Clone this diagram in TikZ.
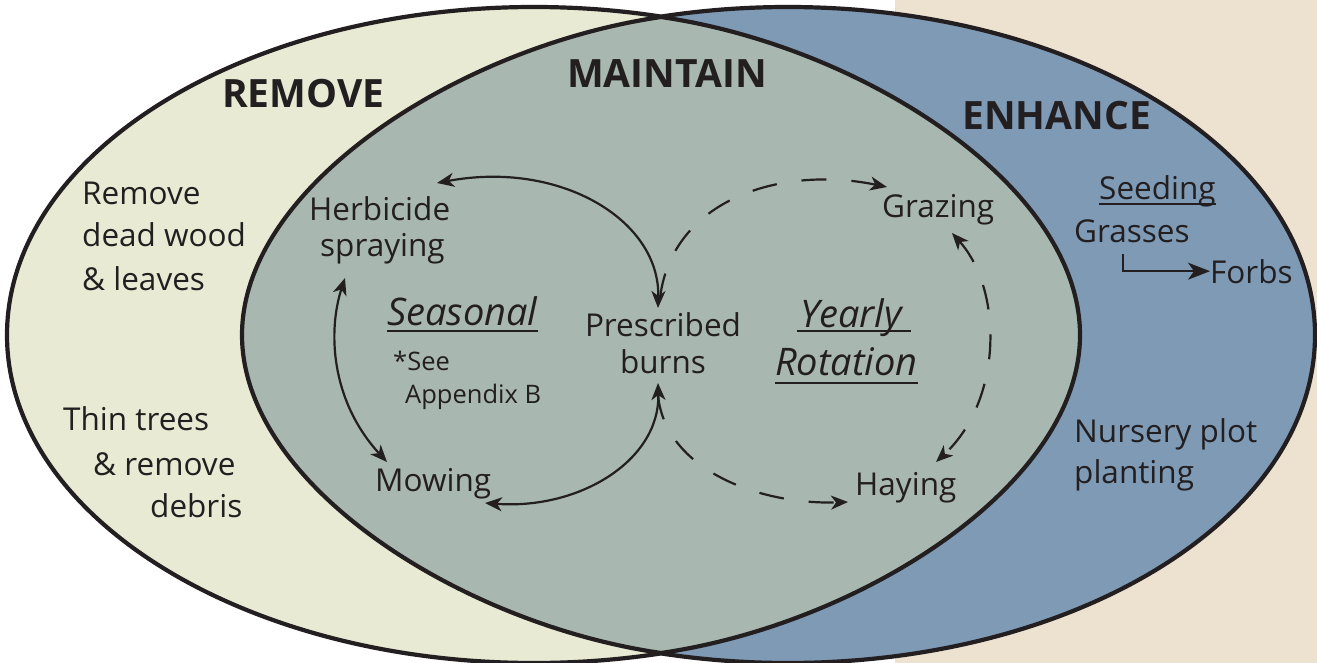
\documentclass[tikz,border=0pt]{standalone}
\usepackage{fontspec}
\setmainfont{Open Sans}
\usetikzlibrary{arrows.meta}
\definecolor{remfill}{HTML}{E8EAD4}
\definecolor{mainfill}{HTML}{A8B7AF}
\definecolor{enhfill}{HTML}{7E9AB5}
\definecolor{beige}{HTML}{EDE2CF}
\definecolor{ink}{HTML}{231F20}
\begin{document}
\begin{tikzpicture}[x=1pt,y=-1pt,
  outline/.style={draw=ink,line width=4.2pt},
  txt/.style={inner sep=0pt,anchor=base west,text=ink,font=\fontsize{31.5}{38}\selectfont},
  head/.style={txt,font=\fontsize{39}{44}\selectfont\bfseries},
  ital/.style={txt,font=\fontsize{38}{44}\selectfont\itshape},
  small/.style={txt,font=\fontsize{25.5}{30}\selectfont},
  hd/.style={},
  arr/.style={draw=ink,line width=2.2pt,{Stealth[length=17pt,width=14pt,inset=5pt]}-{Stealth[length=17pt,width=14pt,inset=5pt]}},
  darr/.style={draw=ink,line width=2.2pt,dash pattern=on 25pt off 25pt},
  tip/.style={-{Stealth[length=17pt,width=14pt,inset=5pt]}},
  ul/.style={draw=ink,line width=2pt}]
\useasboundingbox (0,0) rectangle (1317,663);
\fill[white] (0,0) rectangle (1317,663);
\fill[beige] (895,0) rectangle (1317,663);
% REMOVE ellipse
\begin{scope}
  \clip (-5,-5) rectangle (661,670);
  \path[fill=remfill,outline] (534,335) ellipse [x radius=527pt, y radius=328pt];
\end{scope}
% ENHANCE ellipse
\begin{scope}
  \clip (661,-5) rectangle (1322,670);
  \path[fill=enhfill,outline] (788,335) ellipse [x radius=527pt, y radius=328pt];
\end{scope}
% MAINTAIN shape
\path[fill=mainfill,outline] (661,17) .. controls (461,46) and (242,185) .. (242,335)
  .. controls (242,485) and (461,624) .. (661,653)
  .. controls (861,624) and (1080,485) .. (1080,335)
  .. controls (1080,185) and (861,46) .. (661,17) -- cycle;

% headings
\node[head] (remove) at (222,108) {REMOVE};
\node[head] (maintain) at (567,88) {MAINTAIN};
\node[head] (enhance) at (962,130) {ENHANCE};

% remove texts
\node[txt] (rm1) at (82,205) {Remove};
\node[txt] (rm2) at (82,247) {dead wood};
\node[txt] (rm3) at (82,290) {\& leaves};
\node[txt] (th1) at (63,430) {Thin trees};
\node[txt] (th2) at (93,475) {\& remove};
\node[txt] (th3) at (150,517) {debris};

% maintain texts
\node[txt] (herb1) at (309,221) {Herbicide};
\node[txt] (herb2) at (320,256) {spraying};
\node[ital] (sea) at (387,325) {Seasonal};
\node[small] (see) at (393,370) {*See};
\node[small] (app) at (405,403) {Appendix B};
\node[txt,anchor=base] (pb1) at (663,336) {Prescribed};
\node[txt,anchor=base] (pb2) at (663,373) {burns};
\node[txt] (mow) at (375,491) {Mowing};
\node[ital] (yr1) at (800,327) {Yearly};
\node[ital] (yr2) at (775,375) {Rotation};
\node[txt] (graz) at (882,218) {Grazing};
\node[txt] (hay) at (855,495) {Haying};

% enhance texts
\node[txt] (seed) at (1099,200) {Seeding};
\node[txt] (grass) at (1074,243) {Grasses};
\node[txt] (forbs) at (1210,283) {Forbs};
\node[txt] (nur1) at (1074,442) {Nursery plot};
\node[txt] (nur2) at (1074,483) {planting};

% underlines
\draw[ul] ([yshift=-6pt]sea.base west) -- ([yshift=-6pt]sea.base east);
\draw[ul] ([yshift=-4pt,xshift=-3pt]yr1.base west) -- ([yshift=-4pt,xshift=9pt]yr1.base east);
\draw[ul] ([yshift=-8pt]yr2.base west) -- ([yshift=-8pt]yr2.base east);
\draw[ul] ([yshift=-4pt]seed.base west) -- ([yshift=-4pt]seed.base east);

% arrow end points
\coordinate (hA) at (437,183);
\coordinate (pbT) at (658,308);
\coordinate (hB) at (345,278);
\coordinate (mwA) at (387,462);
\coordinate (mwB) at (485,503);
\coordinate (pbB) at (658,383);
\coordinate (pbT2) at (660,298);
\coordinate (grzA) at (887,187);
\coordinate (grzB) at (952,233);
\coordinate (hayA) at (936,462);
\coordinate (pbB2) at (658,395);
\coordinate (hayB) at (848,502);
\coordinate (gk) at (1123,254);

% seasonal cycle
\draw[arr] (hA) .. controls (560,160) and (660,220) .. (pbT);
\draw[arr] (hB) .. controls (328,330) and (330,400) .. (mwA);
\draw[arr] (mwB) .. controls (580,510) and (660,460) .. (pbB);

% yearly rotation
\draw[darr,tip] (pbT2) .. controls (672,200) and (780,165) .. (grzA);
\draw[darr,{Stealth[length=17pt,width=14pt,inset=5pt]}-{Stealth[length=17pt,width=14pt,inset=5pt]}] (grzB) .. controls (1003,290) and (1003,400) .. (hayA);
\draw[darr,tip] (pbB2) .. controls (665,470) and (760,505) .. (hayB);

% seeding arrow
\draw[ul,-{Stealth[length=22pt,width=17pt,inset=6pt]}] (gk) |- (forbs.west);
\end{tikzpicture}
\end{document}
